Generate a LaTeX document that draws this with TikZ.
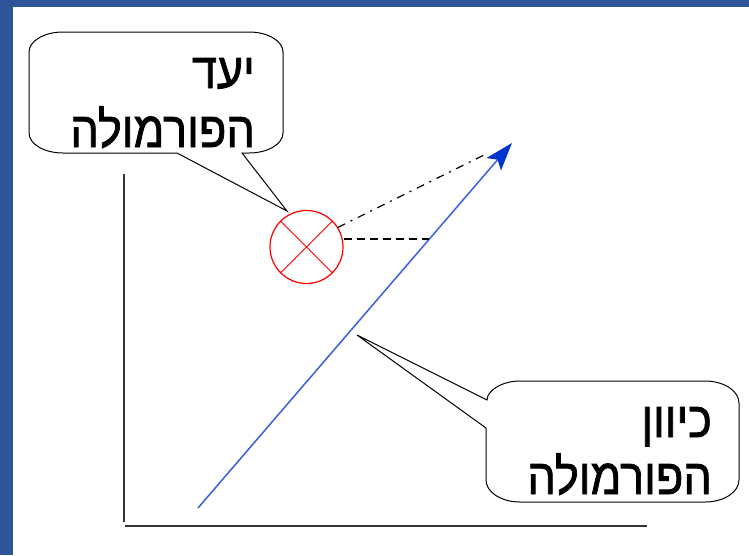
\documentclass[tikz,border=0pt]{standalone}
\usepackage{fontspec}
\newfontfamily\hebfont[Script=Hebrew,FakeBold=1.6]{Liberation Sans}
\TeXXeTstate=1
\usetikzlibrary{arrows.meta}
\definecolor{frameblue}{HTML}{2E5597}
\definecolor{arrowblue}{HTML}{3A5FE0}
\definecolor{headblue}{HTML}{0033CC}
\definecolor{axisgray}{HTML}{333333}
\newcommand{\hebtext}[1]{\scalebox{0.9}[1]{\hebfont\fontsize{50}{50}\selectfont\beginR #1\endR}}
\tikzset{
  callout/.style={draw=black, line width=1pt},
  axis/.style={draw=axisgray, line width=2pt},
  heb/.style={inner sep=0pt, anchor=base east},
  guide/.style={draw=black, line width=1.2pt},
}
\begin{document}
\begin{tikzpicture}[x=1pt,y=-1pt]
\useasboundingbox (0,0) rectangle (749,555);
\fill[white] (0,0) rectangle (749,555);
\fill[frameblue] (0,0) rectangle (749,7);
\fill[frameblue] (0,0) rectangle (13,555);
% axes
\coordinate (ytop) at (124,174);
\coordinate (xend) at (647,526);
\draw[axis] (ytop) -- (124,522);
\draw[axis] (125,526) -- (xend);
% blue arrow
\coordinate (astart) at (198,508);
\coordinate (atip) at (512,143);
\draw[arrowblue, line width=1.5pt, -{Stealth[length=28pt,width=19pt,inset=6pt,color=headblue,fill=headblue]}] (astart) -- (atip);
% target circle
\node[circle, draw=red, line width=1.2pt, minimum size=73pt, inner sep=0pt] (target) at (306.5,247) {};
\draw[red, line width=1pt] (target.45) -- (target.225);
\draw[red, line width=1pt] (target.135) -- (target.315);
% guides
\coordinate (dd) at (488,153);
\coordinate (dh) at (429,239);
\draw[guide, dash pattern=on 8pt off 6pt on 2pt off 6pt] (target.32) -- (dd);
\draw[guide, dash pattern=on 8pt off 5pt] (target.east |- dh) -- (dh);
% callout 1
\coordinate (tip1) at (287,211);
\draw[callout] (177,153) -- (tip1) -- (242,153) -- (249,153)
  arc[start angle=90, end angle=0, x radius=34, y radius=20] -- (283,52)
  arc[start angle=0, end angle=-90, x radius=34, y radius=20] -- (63,32)
  arc[start angle=-90, end angle=-180, x radius=34, y radius=20] -- (29,133)
  arc[start angle=180, end angle=90, x radius=34, y radius=20] -- cycle;
\node[heb] (t1a) at (255,88) {\hebtext{יעד}};
\node[heb] (t1b) at (255,147) {\hebtext{הפורמולה}};
% callout 2
\coordinate (tip2) at (357,335);
\draw[callout] (487,400) -- (tip2) -- (486,428) -- (486,480)
  arc[start angle=180, end angle=90, x radius=34, y radius=22] -- (705,502)
  arc[start angle=90, end angle=0, x radius=34, y radius=22] -- (739,403)
  arc[start angle=0, end angle=-90, x radius=34, y radius=22] -- (520,381)
  arc[start angle=-90, end angle=-160, x radius=34, y radius=22] -- cycle;
\node[heb] (t2a) at (712,437) {\hebtext{כיוון}};
\node[heb] (t2b) at (712,494) {\hebtext{הפורמולה}};
\end{tikzpicture}
\end{document}
